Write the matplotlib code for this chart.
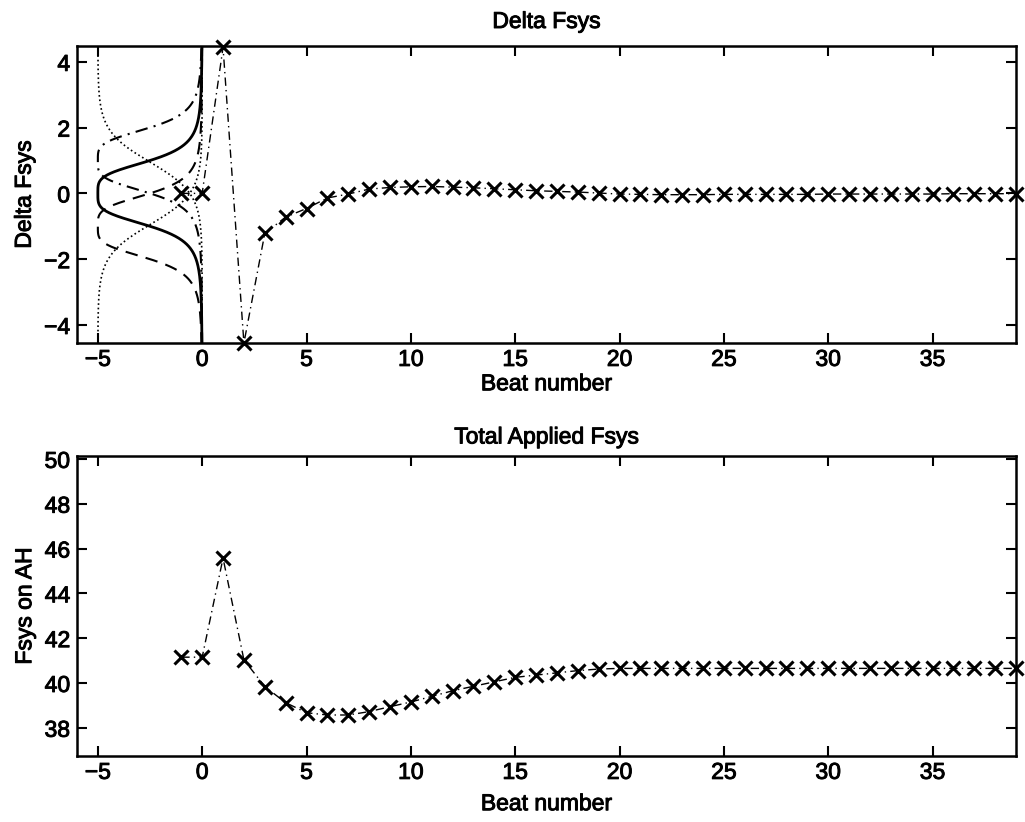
import numpy as np
import matplotlib
matplotlib.use("Agg")
import matplotlib.pyplot as plt
import matplotlib.patheffects as pe

plt.rcParams['font.family'] = ['Liberation Sans', 'DejaVu Sans']
plt.rcParams['font.size'] = 16.5

# Beat index shared by both panels
beats = list(range(-1, 40))

# Change in systolic force per beat
delta_fsys = [0.00, 0.00, 4.44, -4.55, -1.22, -0.72, -0.46, -0.14, -0.02, 0.13,
              0.18, 0.20, 0.21, 0.19, 0.17, 0.14, 0.11, 0.08, 0.06, 0.04,
              0.01, -0.02, -0.03, -0.04, -0.04, -0.04, -0.03, -0.03, -0.03, -0.03,
              -0.03, -0.02, -0.02, -0.02, -0.02, -0.02, -0.02, -0.01, -0.01, -0.01,
              -0.01]

# Total systolic force applied on AH
total_fsys = [41.15, 41.15, 45.57, 41.03, 39.84, 39.12, 38.67, 38.57, 38.57, 38.72,
              38.94, 39.15, 39.40, 39.65, 39.85, 40.05, 40.25, 40.35, 40.45, 40.55,
              40.62, 40.65, 40.65, 40.65, 40.65, 40.65, 40.65, 40.65, 40.65, 40.65,
              40.65, 40.65, 40.65, 40.65, 40.65, 40.65, 40.65, 40.65, 40.65, 40.65,
              40.65]

# Fuzzy membership sets on Delta Fsys, drawn sideways at the left of the top panel
bell_centers = [-1.0, 0.0, 1.0]
bell_width = 1.0
bell_slope = 2.0
sigmoid_centers = [-0.95, 0.95]
sigmoid_gain = 2.1
mf_scale = 5.0


def gbell(y, c, a, b):
    return 1.0 / (1.0 + np.abs((y - c) / a) ** (2 * b))


def sigmoid(y, c, k):
    return 1.0 / (1.0 + np.exp(-k * (y - c)))


fig = plt.figure(figsize=(10.25, 8.22), dpi=100)
ax1 = fig.add_axes([0.0751, 0.5827, 0.9161, 0.3613])
ax2 = fig.add_axes([0.0751, 0.0803, 0.9161, 0.3650])

y = np.linspace(-4.6, 4.5, 600)
# sigmoid sets (positive big / negative big)
ax1.plot(-mf_scale * sigmoid(y, sigmoid_centers[1], sigmoid_gain), y,
         color='black', linestyle=':', linewidth=1.2)
ax1.plot(-mf_scale * sigmoid(y, sigmoid_centers[0], -sigmoid_gain), y,
         color='black', linestyle=':', linewidth=1.2)
# bell sets
ax1.plot(-mf_scale * gbell(y, bell_centers[0], bell_width, bell_slope), y,
         color='black', linestyle=(0, (6, 4)), linewidth=1.5)
ax1.plot(-mf_scale * gbell(y, bell_centers[1], bell_width, bell_slope), y,
         color='black', linestyle='-', linewidth=2.0)
ax1.plot(-mf_scale * gbell(y, bell_centers[2], bell_width, bell_slope), y,
         color='black', linestyle=(0, (6, 3, 1, 3)), linewidth=1.5)

line_kw = dict(color='black', linestyle=(0, (6, 3, 1, 3)), linewidth=1.0,
               marker='x', markersize=10, markeredgewidth=2.2, clip_on=False)
ax1.plot(beats, delta_fsys, **line_kw)
ax2.plot(beats, total_fsys, **line_kw)

ax1.set_xlim(-6, 39)
ax1.set_ylim(-4.55, 4.48)
ax1.set_yticks([-4, -2, 0, 2, 4])
ax1.set_title('Delta Fsys', fontsize=16.5, pad=13)
ax1.set_xlabel('Beat number', labelpad=1)
ax1.set_ylabel('Delta Fsys', labelpad=6)

ax2.set_xlim(-6, 39)
ax2.set_ylim(36.74, 50.13)
ax2.set_yticks([38, 40, 42, 44, 46, 48, 50])
ax2.set_title('Total Applied Fsys', fontsize=16.5, pad=9)
ax2.set_xlabel('Beat number', labelpad=6)
ax2.set_ylabel('Fsys on AH', labelpad=6)

thick = [pe.withStroke(linewidth=0.7, foreground='black')]
for ax in (ax1, ax2):
    ax.set_xticks([-5, 0, 5, 10, 15, 20, 25, 30, 35])
    ax.xaxis.set_major_formatter(matplotlib.ticker.FuncFormatter(
        lambda v, p: f"{int(v)}".replace('-', '\u2212')))
    ax.tick_params(direction='in', length=7, width=1.5, top=True, right=True,
                   labelsize=16.5, pad=5)
    ax.tick_params(axis='x', pad=3.5)
    for s in ax.spines.values():
        s.set_linewidth(1.8)
    texts = ax.get_xticklabels() + ax.get_yticklabels() + [
        ax.title, ax.xaxis.label, ax.yaxis.label]
    for t in texts:
        t.set_path_effects(thick)

fig.savefig('out.png', dpi=100)
